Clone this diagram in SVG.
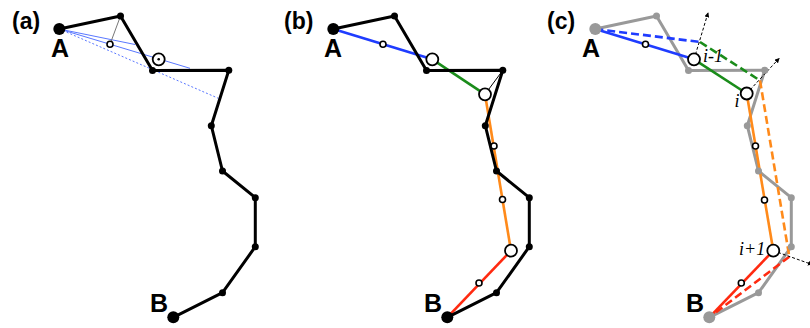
<svg xmlns="http://www.w3.org/2000/svg" width="810" height="328" viewBox="0 0 810 328">
<style>
.path{fill:none;stroke:#000;stroke-width:3;stroke-linejoin:round}
.gpath{fill:none;stroke:#999;stroke-width:3;stroke-linejoin:round}
.nd{fill:#000}
.gnd{fill:#999}
.oc{fill:#fff;stroke:#000;stroke-width:1.6}
.bc{fill:#fff;stroke:#000;stroke-width:1.8}
.lbl{font-family:"Liberation Sans",Arial,sans-serif;font-weight:bold;fill:#000}
.it{font-family:"Liberation Serif","Times New Roman",serif;font-style:italic;font-size:18px;fill:#000}
.blue{stroke:#1f3cff;stroke-width:2.6;fill:none}
.green{stroke:#1a8c1a;stroke-width:2.6;fill:none}
.orange{stroke:#ff8a1a;stroke-width:2.6;fill:none}
.red{stroke:#ff2a10;stroke-width:2.6;fill:none}
.dash{stroke-dasharray:8 4}
.ax{stroke:#000;stroke-width:1;stroke-dasharray:3 2;fill:none;marker-end:url(#ah)}
</style>
<defs>
<marker id="ah" viewBox="0 0 6 6" refX="5" refY="3" markerWidth="5" markerHeight="5" orient="auto" markerUnits="userSpaceOnUse"><path d="M0,0 L6,3 L0,6 z" fill="#000"/></marker>
</defs>

<!-- Panel (a) -->
<g id="panel-a">
<text class="lbl" x="12" y="29" font-size="23">(a)</text>
<g id="connectors-a">
<line x1="59.3" y1="29" x2="135" y2="44.5" stroke="#5a78ff" stroke-width="1"/>
<line x1="59.3" y1="29" x2="190" y2="68.3" stroke="#5a78ff" stroke-width="1"/>
<line x1="59.3" y1="29" x2="218.3" y2="98.3" stroke="#5a78ff" stroke-width="1" stroke-dasharray="2 2"/>
<line x1="120.5" y1="16" x2="110" y2="44.3" stroke="#777" stroke-width="1"/>
<path class="path" d="M59.3,29 L120.5,16 L152.5,70.5 L228.8,70.3 L211.3,125.7 L222.5,171 L255.3,197.7 L255.3,246.7 L222.5,292.7 L173.3,317.3"/>
</g>
<g id="nodes-a">
<circle id="a-A" class="nd" cx="59.3" cy="29" r="6"/>
<circle class="nd" cx="120.5" cy="16" r="3.5"/>
<circle class="nd" cx="152.5" cy="70.5" r="3.5"/>
<circle class="nd" cx="228.8" cy="70.3" r="3.5"/>
<circle class="nd" cx="211.3" cy="125.7" r="3.5"/>
<circle class="nd" cx="222.5" cy="171" r="3.5"/>
<circle class="nd" cx="255.3" cy="197.7" r="3.5"/>
<circle class="nd" cx="255.3" cy="246.7" r="3.5"/>
<circle class="nd" cx="222.5" cy="292.7" r="3.5"/>
<circle id="a-B" class="nd" cx="173.3" cy="317.3" r="6"/>
<circle class="oc" cx="110" cy="44.3" r="3"/>
<g id="a-mid"><circle class="bc" cx="158.7" cy="59.3" r="6"/><circle cx="158.7" cy="59.3" r="1.3" fill="#000"/></g>
</g>
<text class="lbl" x="51" y="57" font-size="25">A</text>
<text class="lbl" x="150" y="312" font-size="25">B</text>
</g>

<!-- Panel (b) -->
<g id="panel-b">
<text class="lbl" x="284" y="29" font-size="23">(b)</text>
<g id="connectors-b">
<line class="blue" x1="333.3" y1="29" x2="432.3" y2="59.3"/>
<line class="green" x1="432.3" y1="59.3" x2="485" y2="94.3"/>
<line class="orange" x1="485" y1="94.3" x2="511" y2="250.7"/>
<line class="red" x1="511" y1="250.7" x2="447.3" y2="317.3"/>
<line x1="502.8" y1="70.3" x2="485" y2="94.3" stroke="#000" stroke-width="1"/>
<path class="path" d="M333.3,29 L394.5,16 L426.5,70.5 L502.8,70.3 L485.3,125.7 L496.5,171 L529.3,197.7 L529.3,246.7 L496.5,292.7 L447.3,317.3"/>
</g>
<g id="nodes-b">
<circle id="b-A" class="nd" cx="333.3" cy="29" r="6"/>
<circle class="nd" cx="394.5" cy="16" r="3.5"/>
<circle class="nd" cx="426.5" cy="70.5" r="3.5"/>
<circle class="nd" cx="502.8" cy="70.3" r="3.5"/>
<circle class="nd" cx="485.3" cy="125.7" r="3.5"/>
<circle class="nd" cx="496.5" cy="171" r="3.5"/>
<circle class="nd" cx="529.3" cy="197.7" r="3.5"/>
<circle class="nd" cx="529.3" cy="246.7" r="3.5"/>
<circle class="nd" cx="496.5" cy="292.7" r="3.5"/>
<circle id="b-B" class="nd" cx="447.3" cy="317.3" r="6"/>
<circle class="oc" cx="383" cy="44.3" r="3"/>
<circle class="oc" cx="494" cy="146" r="3"/>
<circle class="oc" cx="502.5" cy="199.5" r="3"/>
<circle class="oc" cx="479" cy="283" r="3"/>
<circle class="bc" cx="432.3" cy="59.3" r="6"/>
<circle class="bc" cx="485" cy="94.3" r="6"/>
<circle class="bc" cx="511" cy="250.7" r="6"/>
</g>
<text class="lbl" x="324" y="57" font-size="25">A</text>
<text class="lbl" x="424" y="312" font-size="25">B</text>
</g>

<!-- Panel (c) -->
<g id="panel-c">
<text class="lbl" x="547" y="29" font-size="23">(c)</text>
<g id="connectors-c">
<path class="gpath" d="M595.3,29 L656.5,16 L688.5,70.5 L764.8,70.3 L747.3,125.7 L758.5,171 L791.3,197.7 L791.3,246.7 L758.5,292.7 L709.3,317.3"/>
<line class="blue" x1="595.3" y1="29" x2="694" y2="59.3"/>
<line class="blue dash" x1="595.3" y1="29" x2="700" y2="42"/>
<line class="green" x1="694" y1="59.3" x2="746.7" y2="93.5"/>
<line class="green dash" x1="700" y1="42" x2="760" y2="80.5"/>
<line class="orange" x1="746.7" y1="93.5" x2="773.3" y2="250.7"/>
<line class="orange dash" x1="760" y1="80.5" x2="789.3" y2="256.7"/>
<line class="red" x1="773.3" y1="250.7" x2="709.3" y2="317.3"/>
<line class="red dash" x1="789.3" y1="256.7" x2="709.3" y2="317.3"/>
<line class="ax" x1="694" y1="59.3" x2="708" y2="13"/>
<line class="ax" x1="746.7" y1="93.5" x2="779" y2="58.5"/>
<line class="ax" x1="773.3" y1="250.7" x2="812" y2="264.5"/>
</g>
<g id="nodes-c">
<circle id="c-A" class="gnd" cx="595.3" cy="29" r="6"/>
<circle class="gnd" cx="656.5" cy="16" r="3.5"/>
<circle class="gnd" cx="688.5" cy="70.5" r="3.5"/>
<circle class="gnd" cx="764.8" cy="70.3" r="3.5"/>
<circle class="gnd" cx="747.3" cy="125.7" r="3.5"/>
<circle class="gnd" cx="758.5" cy="171" r="3.5"/>
<circle class="gnd" cx="791.3" cy="197.7" r="3.5"/>
<circle class="gnd" cx="791.3" cy="246.7" r="3.5"/>
<circle class="gnd" cx="758.5" cy="292.7" r="3.5"/>
<circle id="c-B" class="gnd" cx="709.3" cy="317.3" r="6"/>
<circle class="oc" cx="645.5" cy="44.3" r="3"/>
<circle class="oc" cx="755.5" cy="146" r="3"/>
<circle class="oc" cx="764.5" cy="200" r="3"/>
<circle class="oc" cx="741.3" cy="283" r="3"/>
<g id="c-i-1"><circle class="bc" cx="694" cy="59.3" r="6"/><text class="it" x="703" y="62">i-1</text></g>
<g id="c-i"><circle class="bc" cx="746.7" cy="93.5" r="6"/><text class="it" x="734.5" y="107">i</text></g>
<g id="c-i+1"><circle class="bc" cx="773.3" cy="250.7" r="6"/><text class="it" x="739" y="255">i+1</text></g>
</g>
<text class="lbl" x="582" y="57" font-size="25">A</text>
<text class="lbl" x="686" y="312" font-size="25">B</text>
</g>
</svg>
